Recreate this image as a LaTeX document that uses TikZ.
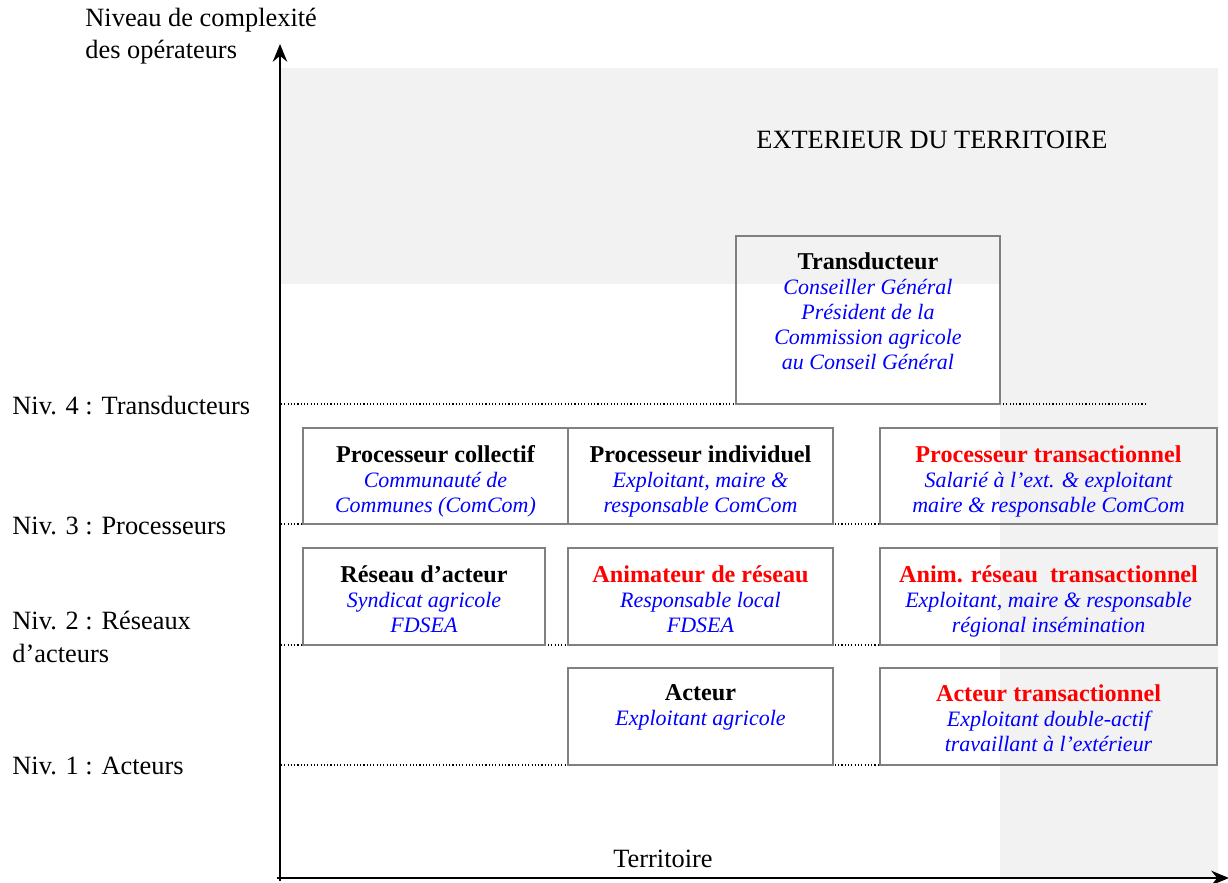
\documentclass[tikz,border=0pt]{standalone}
\usepackage{fontspec}
\setmainfont{Liberation Serif}
\usepackage{xcolor}
\usetikzlibrary{positioning,arrows.meta,fit}
\definecolor{extgray}{HTML}{F2F2F2}
\definecolor{boxgray}{HTML}{808080}
\definecolor{pblue}{HTML}{0000FF}
\definecolor{pred}{HTML}{FF0000}
\tikzset{
  box/.style={draw=boxgray, line width=1pt, inner sep=0pt},
  txt/.style={align=center, inner sep=0pt, text=pblue, font=\fontsize{10}{11.4}\selectfont\itshape},
  lab/.style={anchor=base west, inner sep=0pt, font=\fontsize{12}{14.5}\selectfont},
  lvl/.style={draw=black, line width=0.5pt, densely dotted},
  axis/.style={draw=black, line width=1.3pt, -{Stealth[length=8pt,width=6.5pt]}},
  zone/.style={fill=extgray, draw=none}
}
\newcommand{\ttl}[1]{{\upshape\bfseries\fontsize{11}{11.4}\selectfont\color{black}#1}}
\newcommand{\ttlr}[1]{{\upshape\bfseries\fontsize{11}{11.4}\selectfont\color{pred}#1}}

\begin{document}
\begin{tikzpicture}[x=0.455pt, y=-0.455pt]
  \useasboundingbox (0,0) rectangle (1228,882);

  % Exterior zones (grey)
  \fill[zone] (281,68) rectangle (1218,284);
  \fill[zone] (1000,284) rectangle (1218,878);

  % Level lines
  \foreach \y in {404,524,645,765}
    \draw[lvl] (281,\y) -- (1145,\y);

  % Axes
  \coordinate (orig) at (280,878);
  \coordinate (ytop) at (280,44);
  \coordinate (xend) at (1229,878);
  \draw[axis] (280,881) -- (ytop);
  \draw[axis] (277,878) -- (xend);

  % Axis titles
  \node[lab] (ytitle) at (85,27) {Niveau de complexité};
  \node[lab] (ytitleb) at (85,59) {des opérateurs};
  \node[lab, anchor=base] (xtitle) at (663,867) {Territoire};
  \node[lab, anchor=base] (ext) at (932,149) {EXTERIEUR DU TERRITOIRE};

  % Level labels
  \node[lab] (niv4) at (12,414) {Niv. 4 : Transducteurs};
  \node[lab] (niv3) at (12,534) {Niv. 3 : Processeurs};
  \node[lab] (niv2) at (12,629) {Niv. 2 : Réseaux};
  \node[lab] (niv2b) at (12,662) {d’acteurs};
  \node[lab] (niv1) at (12,774) {Niv. 1 : Acteurs};

  % Level 4
  \node[box, fit={(736,236) (1000,404)}] (trans) {};
  \node[txt, below=7.7pt of trans.north] (transt)
    {\ttl{Transducteur}\\Conseiller Général\\Président de la\\Commission agricole\\au Conseil Général};

  % Level 3
  \node[box, fit={(303,428) (568,524)}] (pcol) {};
  \node[txt, below=8.2pt of pcol.north] (pcolt)
    {\ttl{Processeur collectif}\\Communauté de\\Communes (ComCom)};
  \node[box, fit={(568,428) (833,524)}] (pind) {};
  \node[txt, below=8.2pt of pind.north] (pindt)
    {\ttl{Processeur individuel}\\Exploitant, maire \&\\responsable ComCom};
  \node[box, fit={(880,428) (1217,524)}] (ptra) {};
  \node[txt, below=8.2pt of ptra.north] (ptrat)
    {\ttlr{Processeur transactionnel}\\Salarié à l’ext. \& exploitant\\maire \& responsable ComCom};

  % Level 2
  \node[box, fit={(303,548) (545,645)}] (res) {};
  \node[txt, below=8.2pt of res.north] (rest)
    {\ttl{Réseau d’acteur}\\Syndicat agricole\\FDSEA};
  \node[box, fit={(568,548) (833,645)}] (anim) {};
  \node[txt, below=8.2pt of anim.north] (animt)
    {\ttlr{Animateur de réseau}\\Responsable local\\FDSEA};
  \node[box, fit={(880,548) (1217,645)}] (atra) {};
  \node[txt, below=8.2pt of atra.north] (atrat)
    {\ttlr{Anim. réseau~ transactionnel}\\Exploitant, maire \& responsable\\régional insémination};

  % Level 1
  \node[box, fit={(568,668) (833,765)}] (act) {};
  \node[txt, below=7.7pt of act.north] (actt)
    {\ttl{Acteur}\\Exploitant agricole};
  \node[box, fit={(880,668) (1217,765)}] (actr) {};
  \node[txt, below=7.7pt of actr.north] (actrt)
    {\ttlr{Acteur transactionnel}\\Exploitant double-actif\\travaillant à l’extérieur};
\end{tikzpicture}
\end{document}
